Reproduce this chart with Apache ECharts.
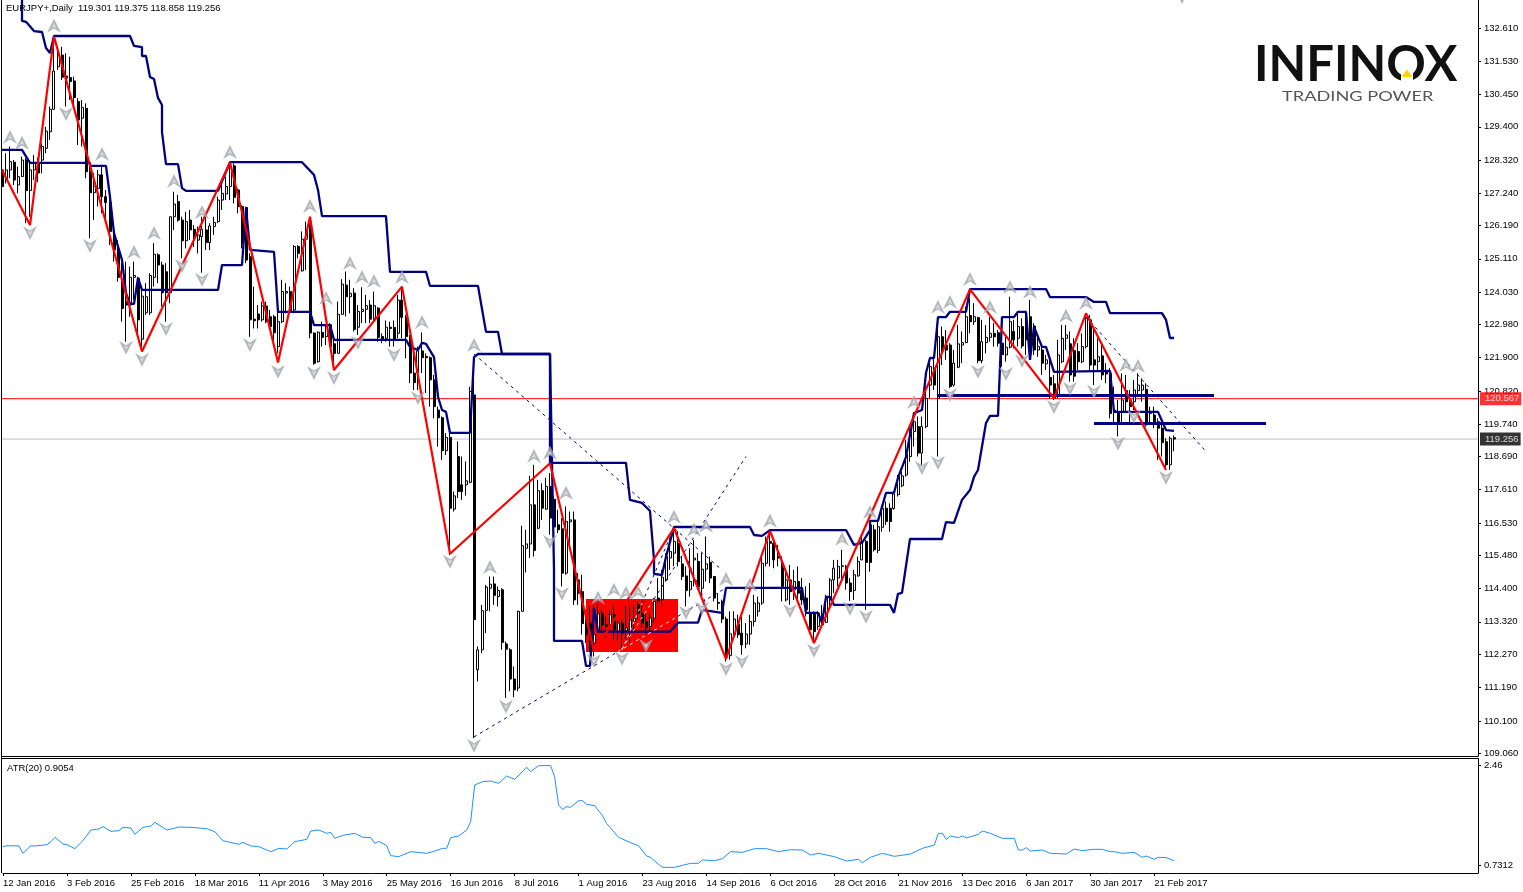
<!DOCTYPE html>
<html><head><meta charset="utf-8">
<style>html,body{margin:0;padding:0;background:#fff}#c{width:1523px;height:892px}</style>
<script src="https://cdn.jsdelivr.net/npm/echarts@6/dist/echarts.min.js"></script>
</head><body><div id="c"></div>
<script>
const dateLabels=['12 Jan 2016','3 Feb 2016','25 Feb 2016','18 Mar 2016','11 Apr 2016','3 May 2016','25 May 2016','16 Jun 2016','8 Jul 2016','1 Aug 2016','23 Aug 2016','14 Sep 2016','6 Oct 2016','28 Oct 2016','21 Nov 2016','13 Dec 2016','6 Jan 2017','30 Jan 2017','21 Feb 2017'];
const priceTicks=[132.61,131.53,130.45,129.4,128.32,127.24,126.19,125.11,124.03,122.98,121.9,120.82,119.74,118.69,117.61,116.53,115.48,114.4,113.32,112.27,111.19,110.1,109.06];
const atrTicks=[0.7312,2.46];
const headerText='EURJPY+,Daily  119.301 119.375 118.858 119.256';
const atrText='ATR(20) 0.9054';
const resistancePrice=120.567, lastPrice=119.256;
// open, close, low, high
const candleValues=[
[128.0,127.46,127.4,128.2],[127.67,128.0,127.56,128.54],[128.0,128.27,127.73,128.76],[128.25,127.67,127.51,128.32],[127.51,127.78,127.24,128.11],[127.78,128.32,127.78,128.43],[128.32,127.33,126.27,128.38],[127.33,128.0,126.48,128.32],[128.0,128.21,127.67,128.48],[128.2,127.9,127.6,128.4],
[128.32,128.76,127.89,128.86],[128.7,129.26,128.54,129.4],[129.24,129.97,128.97,130.06],[129.97,131.21,129.95,132.22],[131.35,131.73,131.25,131.9],[131.73,131.01,130.92,132.0],[131.05,130.98,130.06,131.79],[131.0,130.87,130.27,131.68],[130.89,130.35,130.06,131.03],[130.22,129.62,128.81,130.33],
[129.68,130.03,128.76,130.27],[130.0,127.94,127.73,130.16],[127.94,127.26,125.78,128.11],[127.26,127.46,126.37,127.89],[127.4,127.84,126.81,128.0],[127.84,127.13,126.59,128.16],[127.13,126.94,126.37,127.35],[126.94,126.0,125.56,127.13],[125.81,125.4,125.02,126.05],[125.4,124.51,124.37,125.72],
[124.37,123.5,123.07,124.97],[123.72,123.61,122.42,125.02],[123.61,124.51,123.23,124.86],[124.51,124.57,123.78,125.02],[124.48,123.13,122.69,124.53],[122.5,123.9,122.26,124.21],[123.36,123.88,123.29,124.32],[123.36,124.57,123.29,124.64],[124.51,125.26,124.21,125.62],[125.24,124.91,124.32,125.29],
[124.91,124.01,123.56,125.02],[124.69,124.01,123.07,124.97],[124.01,126.48,123.67,126.48],[126.48,126.89,126.05,127.29],[126.97,126.37,126.32,127.19],[126.37,125.7,125.13,126.48],[125.7,126.32,125.45,126.64],[126.37,126.05,125.72,126.7],[126.07,125.83,125.5,126.21],[125.72,125.89,125.29,126.16],
[125.83,126.07,124.66,126.48],[126.05,125.64,125.4,126.59],[125.64,126.18,125.4,126.27],[126.16,126.29,125.89,126.48],[126.32,127.02,126.27,127.13],[127.02,127.24,126.7,127.67],[127.22,127.46,127.02,127.78],[127.46,128.11,127.02,128.21],[128.13,127.11,126.91,128.21],[127.35,126.81,126.59,127.4],
[126.81,125.6,125.45,126.86],[126.78,125.07,124.97,126.81],[125.18,123.13,122.58,125.29],[123.15,123.1,122.85,124.21],[123.32,123.13,122.85,123.61],[123.13,123.58,123.07,123.72],[123.58,123.07,123.02,123.72],[123.23,122.91,122.85,123.45],[123.23,122.71,122.26,123.29],[122.26,123.07,122.04,123.5],
[123.07,124.05,123.02,124.43],[124.0,124.05,123.34,124.32],[124.05,123.4,123.34,124.21],[123.45,125.51,123.34,125.56],[125.51,125.29,125.13,125.56],[124.72,125.75,124.7,126.0],[125.75,126.0,124.75,126.32],[126.32,122.7,122.53,126.35],[122.7,121.72,121.67,122.72],[121.77,122.73,121.74,122.75],
[122.72,122.56,122.26,123.07],[122.59,122.91,122.31,122.97],[122.97,122.26,122.26,123.02],[122.35,122.04,121.5,122.53],[122.04,123.31,122.04,123.72],[123.31,124.29,123.29,124.45],[124.26,123.88,123.24,124.7],[123.88,123.99,123.34,124.43],[124.0,122.82,122.75,124.16],[122.89,123.4,122.64,123.61],
[123.4,123.47,123.02,124.19],[123.47,123.59,123.02,123.94],[123.61,123.15,123.02,123.77],[123.18,123.59,123.07,124.05],[123.51,122.56,122.42,123.54],[122.59,122.51,122.37,122.69],[122.53,122.89,122.42,123.11],[122.89,122.85,122.26,123.07],[122.88,122.51,122.26,123.11],[122.69,123.77,122.53,123.94],
[123.77,123.21,122.53,124.21],[123.21,122.59,121.88,123.29],[122.59,121.4,121.07,122.64],[121.4,121.09,120.85,122.26],[121.42,122.12,120.85,122.26],[122.12,121.9,121.4,122.72],[121.94,121.9,120.75,122.04],[121.9,121.18,120.31,121.94],[121.18,120.31,119.93,121.34],[120.2,119.95,119.01,120.31],
[119.95,118.88,118.58,119.99],[118.88,119.31,118.74,119.45],[119.31,117.01,115.49,119.45],[116.98,117.41,116.9,117.55],[118.69,117.55,117.34,119.18],[117.77,117.55,117.28,118.69],[117.77,117.9,117.42,118.53],[117.85,120.8,117.82,120.96],[120.69,113.39,109.54,121.4],[111.76,112.41,111.38,112.52],
[112.41,113.68,112.3,113.87],[113.69,114.45,112.95,114.52],[114.41,114.54,113.66,114.79],[114.55,114.18,113.87,114.79],[114.14,114.34,113.82,114.47],[114.36,112.65,112.41,114.41],[112.6,112.43,110.84,112.68],[112.41,111.46,111.06,112.46],[111.46,111.11,110.87,111.87],[111.17,113.66,111.06,113.68],
[113.66,115.79,113.66,116.44],[115.71,115.85,114.92,116.31],[115.85,117.12,115.39,118.06],[117.12,115.64,115.44,118.42],[116.36,117.58,116.33,117.93],[117.58,117.01,116.63,117.82],[116.98,117.72,116.96,118.0],[117.72,116.69,116.15,118.15],[117.3,116.4,116.22,117.39],[116.47,116.31,116.2,116.96],
[116.34,114.9,114.47,116.69],[114.9,116.58,114.85,117.07],[116.57,116.63,115.71,116.9],[116.63,114.03,113.87,116.9],[114.68,114.25,113.87,114.9],[114.3,113.26,112.9,114.85],[113.33,112.9,112.63,113.71],[113.28,112.52,112.36,113.82],[112.63,112.9,112.19,113.82],[113.06,113.58,112.95,113.93],
[113.6,113.22,112.95,113.71],[113.22,113.17,112.79,113.49],[113.22,113.55,112.95,113.71],[113.55,113.06,112.74,113.87],[113.01,113.28,112.74,113.39],[113.28,112.95,112.47,113.39],[113.03,113.12,112.74,113.87],[113.06,113.38,112.63,113.82],[113.33,113.44,112.95,113.87],[113.87,113.6,113.39,113.98],
[113.6,113.28,113.12,113.93],[113.33,113.12,112.9,113.6],[113.17,113.44,113.01,113.6],[113.44,113.98,113.28,114.09],[114.09,114.01,113.93,114.74],[114.04,114.77,113.87,115.01],[114.68,115.44,114.63,115.55],[115.39,115.6,115.01,116.04],[115.55,115.93,115.12,116.31],[115.87,115.28,115.12,116.26],
[115.2,114.79,114.68,115.44],[114.81,114.34,113.82,115.12],[114.36,114.63,114.14,115.71],[115.33,115.39,114.47,115.98],[115.28,114.47,114.36,115.55],[114.41,115.03,114.14,115.55],[115.03,115.2,114.63,116.09],[115.25,114.74,114.58,115.44],[114.79,114.09,113.98,114.81],[113.95,113.92,113.71,114.25],
[113.98,113.41,113.28,114.04],[113.41,112.19,112.03,113.49],[112.22,112.93,112.09,113.66],[112.9,113.41,112.84,113.66],[113.25,112.9,112.79,113.55],[112.95,112.57,112.25,113.49],[112.6,112.92,112.46,113.28],[112.92,113.33,112.57,113.55],[113.33,113.93,113.17,114.2],[113.66,113.93,113.49,114.14],
[113.93,115.22,113.87,115.44],[115.22,115.93,115.12,116.09],[115.93,115.87,115.12,116.25],[115.87,115.33,115.06,115.93],[115.44,115.39,115.12,115.82],[115.22,114.47,113.98,115.44],[114.03,114.68,113.98,115.06],[114.68,114.3,113.87,115.17],[114.36,114.63,114.03,115.01],[114.63,114.25,113.92,115.12],
[114.36,114.03,113.87,114.74],[114.09,113.71,113.49,114.47],[113.6,113.06,113.06,114.58],[113.6,113.0,112.63,113.66],[113.17,113.6,113.06,113.66],[113.55,113.22,113.17,113.87],[113.3,114.14,113.28,114.2],[114.03,114.68,113.82,114.74],[114.68,115.06,114.25,115.33],[114.74,115.12,114.47,115.33],
[115.12,115.14,114.63,115.66],[115.12,114.58,114.36,115.17],[114.58,114.3,114.0,114.74],[114.34,114.85,114.03,115.01],[114.81,115.28,114.79,115.44],[115.33,115.93,115.33,116.15],[115.93,115.25,113.71,115.98],[116.47,115.25,114.95,116.52],[116.31,115.66,115.6,116.47],[115.64,116.41,115.55,116.63],
[116.39,117.01,116.25,117.12],[117.01,116.58,116.47,117.23],[117.01,116.58,116.25,117.17],[117.0,117.47,116.96,117.55],[117.45,118.04,117.39,118.09],[117.74,118.06,117.69,118.2],[118.09,118.75,118.04,119.23],[118.69,119.5,118.52,119.7],[119.5,119.82,119.01,120.09],[119.66,118.8,118.69,119.99],
[118.8,119.66,118.42,119.99],[119.66,120.58,119.61,120.96],[121.01,121.61,120.58,121.72],[121.56,121.01,120.85,121.88],[120.58,122.58,118.69,122.91],[122.58,122.15,121.66,122.91],[122.31,122.15,121.83,122.8],[122.31,120.96,120.91,122.37],[121.01,121.72,120.96,122.15],[121.59,122.35,121.56,122.96],
[122.31,122.39,121.72,122.75],[122.39,123.23,122.37,123.56],[123.27,123.07,122.69,123.83],[123.07,123.23,122.96,123.67],[123.2,121.8,121.72,123.23],[121.8,122.42,121.72,123.13],[122.39,122.56,122.04,122.96],[122.56,122.69,122.42,123.23],[122.69,122.58,122.26,123.02],[122.71,122.37,122.26,122.8],
[122.37,122.0,121.61,123.13],[121.99,122.24,121.77,122.58],[122.24,123.07,122.2,123.88],[122.75,122.48,122.2,123.13],[122.53,122.91,122.26,123.34],[122.91,122.28,122.2,123.18],[122.91,122.48,121.99,123.34],[123.23,122.2,121.83,123.78],[122.93,122.15,121.99,123.02],[122.15,122.26,121.93,122.58],
[122.15,121.72,121.34,122.31],[121.7,121.83,121.5,121.99],[121.26,121.01,120.58,121.83],[121.05,120.58,120.53,121.34],[120.64,121.99,120.58,122.48],[121.77,122.53,121.72,122.96],[122.53,122.64,122.15,122.96],[122.35,121.34,121.12,122.75],[122.13,121.3,121.12,122.53],[122.1,121.77,121.5,122.37],
[121.77,122.26,121.72,122.69],[122.26,123.18,122.2,123.34],[123.13,121.66,121.45,123.29],[121.83,121.66,121.01,122.91],[121.77,121.93,121.5,122.53],[121.96,121.34,121.18,122.31],[121.45,121.37,121.07,121.72],[121.39,120.09,119.93,121.56],[120.12,120.2,119.77,120.96],[120.15,119.77,119.34,120.53],
[120.15,120.53,119.72,121.39],[120.83,120.47,120.15,121.34],[120.53,120.31,119.77,120.85],[120.47,120.85,120.2,121.18],[120.83,121.01,120.69,121.39],[120.85,121.01,120.47,121.23],[120.87,119.72,119.66,121.07],[120.15,120.09,119.72,120.31],[120.04,119.77,119.61,120.31],[119.82,119.61,118.58,119.93],
[119.61,119.14,118.69,119.72],[119.17,118.42,118.31,119.28],[118.42,119.28,118.25,119.34],[119.301,119.256,118.858,119.375]];
const zigzagPoints=[[0,128.0],[7,126.21],[13,132.33],[35,122.1],[57,128.24],[69,121.74],[77,126.48],[83,121.5],[100,124.21],[112,115.53],[137,118.47],[148,112.36],[168,116.36],[181,112.11],[192,116.27],[203,112.63],[242,124.12],[263,120.58],[271,123.34],[291,118.25]];
const upperChannel=[[5,133.6],[5,132.84],[6,132.81],[8,132.51],[10,132.48],[11,131.96],[12,131.8],[13,132.35],[32,132.35],[33,132.03],[35,131.99],[35,131.7],[36,131.7],[37,131.02],[38,130.95],[39,130.34],[40,130.11],[40,129.23],[41,128.19],[44,128.19],[45,127.41],[46,127.32],[54,127.32],[57,128.25],[75,128.25],[78,127.84],[79,127.35],[80,126.5],[96,126.5],[97,124.69],[106,124.69],[107,124.23],[119,124.23],[121,122.74],[124,122.74],[125,122.02],[137,122.02],[137,118.48],[156,118.48],[157,117.28],[160,117.18],[162,116.92],[163,115.33],[163,114.88],[165,114.84],[166,115.43],[168,116.4],[187,116.4],[188,116.14],[190,116.11],[192,116.3],[211,116.3],[213,115.82],[215,115.88],[217,116.3],[217,116.6],[219,116.6],[221,117.51],[223,117.51],[224,118.0],[226,118.68],[228,120.1],[230,120.2],[231,121.41],[232,121.89],[233,121.89],[234,123.22],[236,123.22],[237,123.39],[241,123.39],[242,124.13],[261,124.13],[262,123.87],[271,123.87],[273,123.71],[276,123.71],[277,123.35],[290,123.35],[291,123.13],[292,122.54],[293,122.54]];
const lowerChannel=[[0,128.65],[5,128.65],[7,128.23],[22,128.23],[22,128.13],[26,128.13],[27,127.12],[28,125.95],[30,125.08],[31,124.0],[32,123.65],[33,123.65],[34,124.49],[35,124.1],[54,124.1],[55,124.91],[60,124.91],[61,126.76],[62,125.4],[68,125.34],[69,123.39],[77,123.39],[78,122.96],[82,122.96],[83,122.48],[101,122.48],[102,122.25],[104,122.15],[105,122.38],[106,122.35],[108,121.92],[109,120.63],[110,120.2],[111,120.14],[112,119.46],[117,119.46],[118,121.92],[119,122.02],[137,122.02],[138,115.0],[138,112.7],[145,112.7],[146,111.89],[147,111.89],[148,113.77],[149,113.0],[167,113.0],[169,113.29],[174,113.29],[175,113.71],[180,113.61],[181,114.42],[200,114.42],[201,113.61],[204,113.61],[205,113.29],[206,114.13],[207,114.13],[208,113.87],[222,113.87],[223,113.61],[224,114.23],[225,114.26],[227,116.01],[235,116.01],[236,116.56],[238,116.53],[240,117.28],[242,117.6],[243,118.03],[244,118.25],[246,119.78],[247,120.01],[249,120.01],[250,123.22],[253,123.22],[254,123.39],[256,123.39],[257,121.83],[258,122.9],[260,122.25],[261,122.25],[263,121.44],[277,121.47],[278,120.14],[289,120.14],[291,119.55],[293,119.52]];
const levelSegments=[[[234,120.67],[303,120.67]],[[273,119.76],[316,119.76]]];
const dashedTrends=[[[118,122.02],[180,115.0]],[[118,109.58],[154,112.35]],[[169,113.5],[181,114.42]],[[163,114.06],[186,118.69]],[[168,116.37],[176,113.9]],[[160,113.93],[168,116.37]],[[271,123.23],[301,118.85]]];
const boxDashes=[[[154,112.35],[169,113.5]],[[154,112.25],[163,114.06]],[[155,112.4],[160,113.93]]];
const redBox=[[146,114.06],[169,112.34]];
const upFractals=[[2,129.07],[5,128.88],[13,132.68],[25,128.52],[33,125.33],[38,125.95],[43,127.64],[50,126.63],[57,128.58],[77,126.83],[81,123.84],[87,124.98],[90,124.52],[93,124.39],[100,124.52],[105,123.06],[118,122.31],[122,115.1],[133,118.71],[137,118.81],[141,117.51],[149,114.1],[153,114.36],[156,114.26],[159,114.29],[168,116.73],[173,116.31],[176,116.44],[181,114.71],[187,114.52],[192,116.6],[210,116.01],[217,116.89],[228,120.46],[234,123.55],[237,123.71],[242,124.46],[247,123.55],[252,124.2],[257,124.04],[266,123.26],[271,123.68],[281,121.66],[284,121.63]];
const downFractals=[[7,125.95],[16,129.82],[22,125.53],[31,122.22],[35,121.83],[41,122.83],[45,124.88],[50,124.43],[62,122.31],[69,121.44],[78,121.4],[83,121.24],[89,122.38],[98,121.99],[104,120.59],[112,115.27],[118,109.29],[126,110.56],[137,115.92],[140,114.23],[148,112.05],[155,112.12],[161,112.54],[171,113.61],[175,113.74],[181,111.79],[185,112.02],[197,113.67],[203,112.38],[212,113.74],[216,113.48],[230,118.32],[234,118.48],[237,120.69],[244,121.44],[251,121.37],[255,121.79],[263,120.3],[267,120.89],[273,120.79],[279,119.1],[283,119.98],[291,118.0]];
const offTopFractal=[[295,133.62]];
const atrPoints=[[0,1.048],[1,1.065],[4,1.06],[5,0.933],[7,1.065],[8,1.06],[11,1.083],[12,1.135],[13,1.21],[15,1.094],[16,1.083],[18,1.014],[20,1.152],[22,1.336],[24,1.354],[25,1.394],[27,1.313],[29,1.325],[30,1.382],[32,1.371],[33,1.261],[35,1.382],[37,1.405],[38,1.469],[41,1.336],[44,1.388],[47,1.382],[51,1.359],[53,1.307],[55,1.152],[59,1.088],[60,1.123],[62,1.06],[64,1.048],[67,0.962],[69,1.019],[71,1.008],[73,1.135],[76,1.175],[77,1.319],[79,1.336],[81,1.279],[82,1.296],[83,1.192],[85,1.244],[88,1.279],[90,1.21],[92,1.204],[93,1.106],[94,1.14],[96,1.065],[97,0.893],[99,0.875],[102,0.962],[106,0.933],[108,0.973],[110,1.019],[111,1.019],[112,1.204],[114,1.233],[116,1.336],[117,1.48],[118,2.114],[120,2.172],[122,2.183],[124,2.143],[126,2.27],[128,2.212],[131,2.42],[132,2.345],[134,2.449],[137,2.449],[138,2.258],[139,1.768],[140,1.693],[141,1.74],[142,1.728],[144,1.843],[145,1.843],[146,1.78],[148,1.757],[150,1.584],[151,1.451],[154,1.21],[157,1.117],[159,1.065],[161,0.887],[162,0.864],[164,0.743],[165,0.691],[168,0.691],[172,0.76],[174,0.76],[175,0.818],[178,0.806],[180,0.841],[182,0.962],[185,0.95],[188,1.014],[191,1.014],[194,0.962],[197,0.996],[200,0.99],[202,0.904],[204,0.933],[208,0.875],[211,0.8],[214,0.829],[215,0.771],[217,0.864],[220,0.933],[223,0.881],[227,0.921],[230,1.019],[233,1.077],[234,1.279],[235,1.279],[236,1.175],[237,1.233],[239,1.204],[240,1.233],[241,1.198],[244,1.261],[245,1.319],[247,1.279],[250,1.192],[253,1.192],[254,0.99],[255,0.99],[256,1.031],[257,0.973],[260,0.99],[262,0.933],[266,0.921],[268,1.008],[270,0.979],[273,1.002],[275,1.002],[277,0.962],[278,0.962],[280,0.933],[283,0.95],[285,0.864],[286,0.887],[288,0.829],[289,0.864],[291,0.858],[293,0.806]];

const FONT='"Liberation Sans"', FS=9.5, NAVY='#000080';
const categories=Array.from({length:370},(_,i)=>(i%16===0&&dateLabels[i/16])||'');
const isLabeled=(i)=>i%16===0&&i<=288;
const lineS=(data,color,width,extra)=>Object.assign({type:'line',data,showSymbol:false,symbol:'none',animation:false,silent:true,lineStyle:{color,width},z:4},extra||{});
const UP='path://M8 0L16 16L8 11L0 16Z', DOWN='path://M0 0L8 5L16 0L8 16Z';
const arrow=(data,sym,size,color,z,clip)=>({type:'scatter',data,symbol:sym,symbolSize:size,silent:true,animation:false,clip:clip!==false,itemStyle:{color},z});
const tag=(val,bg)=>({type:'scatter',data:[[369,val]],symbolSize:0,silent:true,animation:false,z:9,clip:false,
  label:{show:true,position:'right',distance:2,formatter:val.toFixed(3),color:'#fff',backgroundColor:bg,fontFamily:FONT,fontSize:FS,padding:[2,2,1,5]}});
const series=[
 {type:'line',data:[],z:1,silent:true,markArea:{silent:true,itemStyle:{color:'#ff0000',opacity:1},data:[[{xAxis:redBox[0][0],yAxis:redBox[0][1]},{xAxis:redBox[1][0],yAxis:redBox[1][1]}]]}},
 lineS([[0,resistancePrice],[369,resistancePrice]],'#ff0000',1,{z:2}),
 lineS([[0,lastPrice],[369,lastPrice]],'#bdbdbd',1,{z:2}),
 {type:'candlestick',data:candleValues,barWidth:2.5,silent:true,animation:false,z:3,large:false,
  itemStyle:{color:'#ffffff',color0:'#000000',borderColor:'#000000',borderColor0:'#000000',borderWidth:1}},
 lineS(lowerChannel,NAVY,2.3),
 lineS(upperChannel,NAVY,2.3),
 lineS(zigzagPoints,'#ff0000',2.2,{z:5}),
 arrow(upFractals,UP,14,'#a2a5ab',6),arrow(upFractals,UP,5,'#e4e6ea',7),
 arrow(downFractals,DOWN,14,'#a2a5ab',6),arrow(downFractals,DOWN,5,'#e4e6ea',7),
 arrow(offTopFractal,DOWN,14,'#a2a5ab',6,false),
 tag(resistancePrice,'#ff0000'),tag(lastPrice,'#000000'),
 {type:'line',xAxisIndex:1,yAxisIndex:1,data:atrPoints,showSymbol:false,symbol:'none',animation:false,silent:true,lineStyle:{color:'#1e90ff',width:1}}
];
levelSegments.forEach(s=>series.push(lineS(s,NAVY,3)));
dashedTrends.forEach(s=>series.push(Object.assign(lineS(s,NAVY,1),{lineStyle:{color:NAVY,width:1,type:[3,4]}})));
boxDashes.forEach(s=>series.push(Object.assign(lineS(s,'#fff',1),{lineStyle:{color:'#ffffff',width:1,type:[3,4]}})));
const yCommon=(vals,fmt)=>({type:'value',position:'right',scale:true,splitLine:{show:false},
 axisLine:{show:true,onZero:false,lineStyle:{color:'#000',width:1}},
 axisTick:{show:true,length:3,lineStyle:{color:'#000'},customValues:vals},
 axisLabel:{color:'#000',fontFamily:FONT,fontSize:FS,margin:6,padding:[2,0,0,0],customValues:vals,formatter:fmt,showMinLabel:true,showMaxLabel:true}});
const option={animation:false,backgroundColor:'#fff',
 grid:[{left:2,top:0,width:1476,height:756},{left:2,top:759,width:1476,height:114}],
 xAxis:[
  {type:'category',gridIndex:0,data:categories,boundaryGap:false,axisLine:{show:true,onZero:false,lineStyle:{color:'#000'}},axisTick:{show:false},axisLabel:{show:false},splitLine:{show:false}},
  {type:'category',gridIndex:1,data:categories,boundaryGap:false,axisLine:{show:true,onZero:false,lineStyle:{color:'#000'}},
   axisTick:{show:true,length:3,interval:(i)=>isLabeled(i),lineStyle:{color:'#000'}},
   axisLabel:{show:true,interval:(i)=>isLabeled(i),color:'#000',fontFamily:FONT,fontSize:FS,margin:5,align:'left',hideOverlap:false},splitLine:{show:false}}
 ],
 yAxis:[
  Object.assign(yCommon(priceTicks,(v)=>v.toFixed(3)),{gridIndex:0,min:108.96,max:133.52}),
  Object.assign(yCommon(atrTicks,(v)=>String(v)),{gridIndex:1,min:0.5929,max:2.5637})
 ],
 title:[
  {text:headerText,left:6,top:3,padding:0,textStyle:{color:'#000',fontFamily:FONT,fontSize:FS,fontWeight:'normal'}},
  {text:atrText,left:7,top:763,padding:0,textStyle:{color:'#000',fontFamily:FONT,fontSize:FS,fontWeight:'normal'}}
 ],
 graphic:[
  {type:'rect',shape:{x:1,y:0,width:1,height:873},style:{fill:'#000'},silent:true},
  {type:'rect',shape:{x:1,y:758,width:1478,height:1},style:{fill:'#000'},silent:true},
  {type:'text',left:1254,top:41,silent:true,style:{text:'INFINOX',fill:'#111',font:'bold 49px Lato'}},
  {type:'text',left:1282,top:89,silent:true,scaleX:1.3,style:{text:'TRADING POWER',fill:'#555',font:'14px Lato'}},
  {type:'rect',shape:{x:1401,y:72,width:12,height:14},style:{fill:'#fff'},silent:true},
  {type:'polygon',shape:{points:[[1407,69.5],[1412.5,77],[1401.5,77]]},style:{fill:'#ffd400'},silent:true}
 ],
 series
};
const chart=echarts.init(document.getElementById('c'),null,{renderer:'canvas'});
chart.setOption(option);
</script></body></html>
